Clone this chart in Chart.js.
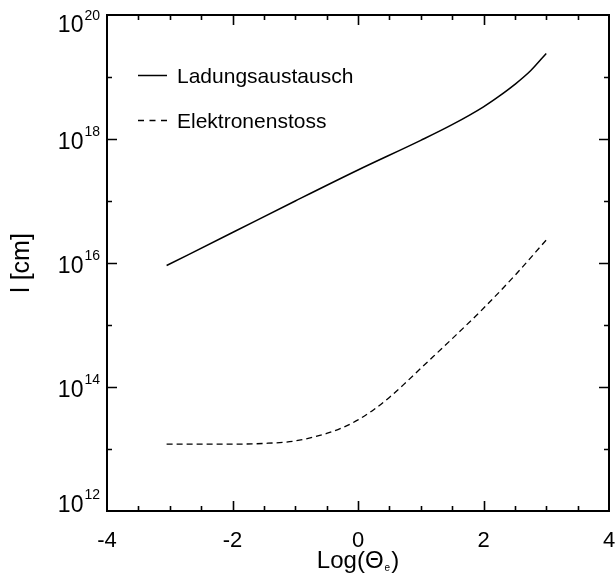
<!DOCTYPE html>
<html>
<head>
<meta charset="utf-8">
<script src="https://cdn.jsdelivr.net/npm/chart.js@4/dist/chart.umd.min.js"></script>
<style>
  html, body { margin: 0; padding: 0; background: #fff; }
  canvas { display: block; }
</style>
</head>
<body>
<canvas id="chart" width="616" height="581"></canvas>
<script>
// Log(Theta_e) positions and mean free path l [cm]
const thetaLadung = [-3.05, -2, -1, 0, 1, 1.5, 2, 2.25, 2.5, 2.75, 3]
const lLadung = [9.1e15, 3.1e16, 1.0e17, 3.16e17, 9.5e17, 1.7e18, 3.3e18, 4.9e18, 7.6e18, 1.26e19, 2.4e19]

const thetaElektron = [-3.05, -2, -1.5, -1, -0.5, -0.25, 0, 0.25, 0.5, 0.75, 1, 1.5, 2, 2.5, 3]
const lElektron = [1.2e13, 1.2e13, 1.23e13, 1.35e13, 1.78e13, 2.2e13, 2.95e13, 4.3e13, 6.8e13, 1.15e14, 2.0e14, 6.0e14, 1.86e15, 6.3e15, 2.35e16]

const xTickLabels = [-4, -2, 0, 2, 4]
const yTickExponents = [12, 14, 16, 18, 20]

const FONT = "'Liberation Sans', Arial, Helvetica, sans-serif"

const toPoints = (xs, ys) => xs.map((x, i) => ({ x: x, y: ys[i] }))

// frame, inward ticks, labels with superscripts and the inset legend
const axesPlugin = {
  id: "idlAxes",
  afterDraw(chart) {
    const ctx = chart.ctx
    const area = chart.chartArea
    const xs = chart.scales.x
    const ys = chart.scales.y
    ctx.save()
    ctx.strokeStyle = "#000"
    ctx.fillStyle = "#000"

    // ticks on all four sides
    ctx.lineWidth = 1.6
    ctx.beginPath()
    for (let v = -3.5; v < 4; v += 0.5) {
      const px = Math.round(xs.getPixelForValue(v)) + 0.5
      const len = (v % 2 === 0) ? 10 : 5
      ctx.moveTo(px, area.bottom); ctx.lineTo(px, area.bottom - len)
      ctx.moveTo(px, area.top); ctx.lineTo(px, area.top + len)
    }
    for (let e = 13; e < 20; e++) {
      const py = Math.round(ys.getPixelForValue(Math.pow(10, e))) + 0.5
      const len = (e % 2 === 0) ? 10 : 5
      ctx.moveTo(area.left, py); ctx.lineTo(area.left + len, py)
      ctx.moveTo(area.right, py); ctx.lineTo(area.right - len, py)
    }
    ctx.stroke()

    ctx.lineWidth = 2
    ctx.strokeRect(area.left, area.top, area.right - area.left, area.bottom - area.top)

    // x tick labels
    ctx.font = "22px " + FONT
    ctx.textAlign = "center"
    ctx.textBaseline = "alphabetic"
    xTickLabels.forEach(v => {
      ctx.fillText(String(v), xs.getPixelForValue(v), area.bottom + 36)
    })

    // y tick labels as 10 with a raised exponent
    yTickExponents.forEach(e => {
      const py = ys.getPixelForValue(Math.pow(10, e))
      let base = py + 9.5
      base = Math.max(base, area.top + 17)
      base = Math.min(base, area.bottom + 0.5)
      ctx.textAlign = "right"
      ctx.font = "14px " + FONT
      const expText = String(e)
      const expW = ctx.measureText(expText).width
      ctx.fillText(expText, area.left - 7, base - 12.5)
      ctx.font = "23px " + FONT
      ctx.fillText("10", area.left - 7 - expW - 1, base)
    })

    // x axis title: Log(Theta_e)
    ctx.textAlign = "left"
    const mainA = "Log(\u0398"
    const mainB = ")"
    ctx.font = "10px " + FONT
    const subW = ctx.measureText("e").width
    ctx.font = "24px " + FONT
    const wA = ctx.measureText(mainA).width
    const wB = ctx.measureText(mainB).width
    const total = wA + subW + 2 + wB
    let tx = (area.left + area.right) / 2 - total / 2
    const tBase = 567.5
    ctx.fillText(mainA, tx, tBase)
    tx += wA + 1
    ctx.font = "10px " + FONT
    ctx.fillText("e", tx, tBase + 3)
    tx += subW + 1
    ctx.font = "24px " + FONT
    ctx.fillText(mainB, tx, tBase)

    // y axis title
    ctx.save()
    ctx.translate(29, (area.top + area.bottom) / 2)
    ctx.rotate(-Math.PI / 2)
    ctx.textAlign = "center"
    ctx.font = "25px " + FONT
    ctx.fillText("l [cm]", 0, 0)
    ctx.restore()

    // legend inside the plot
    const legendY = [75, 120]
    chart.data.datasets.forEach((ds, i) => {
      const y = legendY[i] + 0.5
      ctx.lineWidth = ds.borderWidth
      ctx.setLineDash(i === 0 ? [] : [6, 5.5])
      ctx.beginPath()
      ctx.moveTo(138, y)
      ctx.lineTo(167, y)
      ctx.stroke()
      ctx.setLineDash([])
      ctx.font = "21px " + FONT
      ctx.textAlign = "left"
      ctx.fillText(ds.label, 177, legendY[i] + 8)
    })

    ctx.restore()
  }
}

new Chart(document.getElementById("chart"), {
  type: "line",
  data: {
    datasets: [
      {
        label: "Ladungsaustausch",
        data: toPoints(thetaLadung, lLadung),
        borderColor: "#000",
        borderWidth: 1.5,
        pointRadius: 0,
        cubicInterpolationMode: "monotone",
        fill: false
      },
      {
        label: "Elektronenstoss",
        data: toPoints(thetaElektron, lElektron),
        borderColor: "#000",
        borderWidth: 1.3,
        borderDash: [6, 4],
        pointRadius: 0,
        cubicInterpolationMode: "monotone",
        fill: false
      }
    ]
  },
  options: {
    responsive: false,
    animation: false,
    layout: { padding: { left: 0, right: 7, top: 15, bottom: 0 } },
    plugins: {
      legend: { display: false },
      tooltip: { enabled: false }
    },
    scales: {
      x: {
        type: "linear",
        min: -4,
        max: 4,
        grid: { display: false },
        border: { display: false },
        ticks: { display: false },
        afterFit: s => { s.height = 70 }
      },
      y: {
        type: "logarithmic",
        min: 1e12,
        max: 1e20,
        grid: { display: false },
        border: { display: false },
        ticks: { display: false },
        afterFit: s => { s.width = 107 }
      }
    }
  },
  plugins: [axesPlugin]
})
</script>
</body>
</html>
